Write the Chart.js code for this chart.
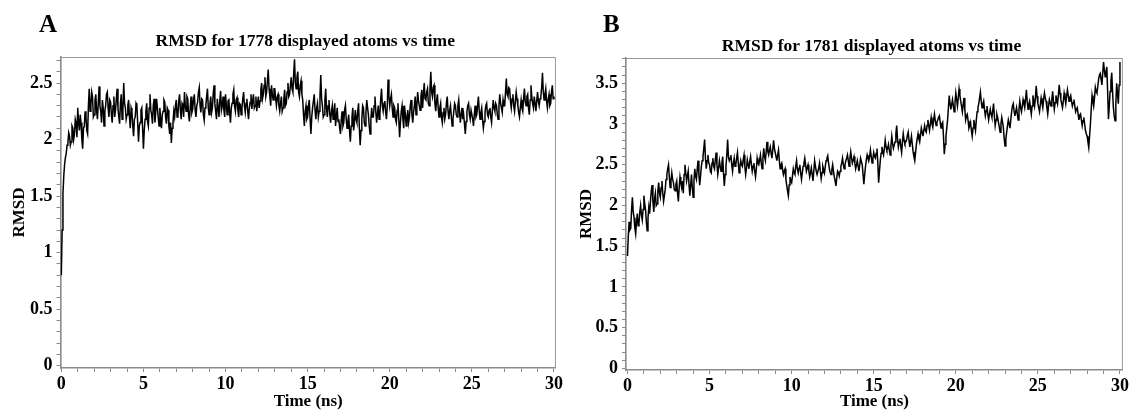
<!DOCTYPE html>
<html><head><meta charset="utf-8">
<script src="https://cdn.jsdelivr.net/npm/chart.js@4.4.1/dist/chart.umd.min.js"></script>
<style>
html,body{margin:0;padding:0;background:#fff;width:1131px;height:412px;overflow:hidden}
canvas{position:absolute;top:0}
#cA{left:0}
#cB{left:565px}
</style></head><body>
<canvas id="cA" width="565" height="412"></canvas>
<canvas id="cB" width="566" height="412"></canvas>
<script>
// ---------- data (one value every 0.05 ns; one row = 1 ns) ----------
const timeStepNs = 0.05;

const rmsdA = [
  0.80, 1.20, 1.52, 1.68, 1.78, 1.84, 1.88, 1.95, 1.97, 2.06, 2.03, 1.95, 1.98, 2.12, 2.10, 2.00, 2.05, 2.18, 2.15, 2.02,
  2.28, 2.15, 2.08, 2.22, 2.15, 2.00, 1.92, 2.10, 2.12, 2.25, 2.20, 2.08, 2.05, 2.30, 2.45, 2.25, 2.30, 2.42, 2.38, 2.20,
  2.22, 2.35, 2.40, 2.25, 2.18, 2.32, 2.47, 2.30, 2.25, 2.15, 2.35, 2.28, 2.12, 2.25, 2.30, 2.40, 2.42, 2.28, 2.20, 2.35,
  2.33, 2.22, 2.15, 2.30, 2.38, 2.20, 2.26, 2.36, 2.45, 2.28, 2.20, 2.14, 2.32, 2.40, 2.18, 2.26, 2.50, 2.32, 2.28, 2.18,
  2.22, 2.30, 2.35, 2.20, 2.10, 2.28, 2.25, 2.12, 2.03, 2.18, 2.20, 2.32, 2.30, 2.15, 1.98, 2.12, 2.15, 2.26, 2.28, 2.10,
  1.92, 2.08, 2.18, 2.25, 2.32, 2.16, 2.12, 2.28, 2.40, 2.26, 2.22, 2.14, 2.30, 2.36, 2.15, 2.24, 2.36, 2.28, 2.20, 2.12,
  2.28, 2.18, 2.10, 2.22, 2.25, 2.35, 2.33, 2.20, 2.14, 2.28, 2.26, 2.12, 2.05, 2.15, 1.97, 2.10, 2.15, 2.25, 2.20, 2.30,
  2.35, 2.20, 2.22, 2.34, 2.40, 2.26, 2.18, 2.32, 2.30, 2.20, 2.42, 2.30, 2.25, 2.38, 2.36, 2.22, 2.16, 2.28, 2.38, 2.24,
  2.27, 2.35, 2.40, 2.26, 2.20, 2.30, 2.33, 2.42, 2.46, 2.30, 2.24, 2.36, 2.35, 2.22, 2.17, 2.28, 2.30, 2.38, 2.45, 2.28,
  2.22, 2.32, 2.38, 2.24, 2.28, 2.40, 2.48, 2.32, 2.25, 2.18, 2.36, 2.28, 2.20, 2.34, 2.43, 2.26, 2.30, 2.38, 2.26, 2.20,
  2.40, 2.30, 2.22, 2.34, 2.35, 2.24, 2.15, 2.28, 2.32, 2.40, 2.44, 2.30, 2.25, 2.35, 2.37, 2.26, 2.20, 2.32, 2.31, 2.22,
  2.28, 2.36, 2.42, 2.30, 2.24, 2.32, 2.36, 2.25, 2.18, 2.28, 2.33, 2.40, 2.27, 2.34, 2.40, 2.28, 2.30, 2.38, 2.25, 2.32,
  2.38, 2.28, 2.34, 2.44, 2.50, 2.36, 2.40, 2.48, 2.55, 2.38, 2.42, 2.52, 2.62, 2.45, 2.38, 2.30, 2.48, 2.40, 2.35, 2.45,
  2.45, 2.36, 2.30, 2.38, 2.40, 2.30, 2.25, 2.32, 2.38, 2.25, 2.28, 2.36, 2.44, 2.30, 2.32, 2.42, 2.50, 2.38, 2.40, 2.48,
  2.55, 2.45, 2.42, 2.58, 2.71, 2.50, 2.45, 2.55, 2.60, 2.42, 2.38, 2.48, 2.52, 2.40, 2.35, 2.22, 2.12, 2.25, 2.30, 2.18,
  2.20, 2.30, 2.35, 2.18, 2.05, 2.20, 2.28, 2.34, 2.40, 2.26, 2.18, 2.28, 2.32, 2.20, 2.25, 2.38, 2.57, 2.36, 2.30, 2.20,
  2.22, 2.35, 2.45, 2.28, 2.20, 2.30, 2.35, 2.22, 2.15, 2.25, 2.30, 2.18, 2.24, 2.32, 2.12, 2.20, 2.28, 2.16, 2.18, 2.10,
  2.05, 2.18, 2.25, 2.12, 2.15, 2.26, 2.30, 2.18, 2.10, 2.16, 2.22, 2.08, 1.98, 2.12, 2.20, 2.28, 2.08, 2.15, 2.26, 2.18,
  2.15, 2.25, 2.32, 2.10, 1.95, 2.08, 2.18, 2.30, 2.28, 2.15, 2.12, 2.24, 2.35, 2.28, 2.22, 2.12, 2.05, 2.18, 2.28, 2.20,
  2.20, 2.30, 2.38, 2.25, 2.15, 2.22, 2.30, 2.18, 2.22, 2.36, 2.45, 2.30, 2.25, 2.32, 2.34, 2.24, 2.18, 2.30, 2.53, 2.38,
  2.30, 2.36, 2.40, 2.28, 2.20, 2.30, 2.28, 2.18, 2.15, 2.26, 2.32, 2.18, 2.02, 2.15, 2.25, 2.30, 2.18, 2.10, 2.30, 2.22,
  2.12, 2.20, 2.26, 2.15, 2.20, 2.30, 2.35, 2.22, 2.15, 2.24, 2.30, 2.38, 2.22, 2.30, 2.42, 2.34, 2.30, 2.26, 2.38, 2.44,
  2.28, 2.40, 2.50, 2.36, 2.35, 2.42, 2.45, 2.32, 2.30, 2.45, 2.60, 2.42, 2.38, 2.46, 2.48, 2.32, 2.25, 2.34, 2.40, 2.28,
  2.20, 2.28, 2.32, 2.20, 2.15, 2.24, 2.28, 2.18, 2.22, 2.32, 2.38, 2.25, 2.18, 2.26, 2.30, 2.20, 2.12, 2.18, 2.25, 2.32,
  2.30, 2.22, 2.20, 2.30, 2.35, 2.24, 2.15, 2.22, 2.28, 2.18, 2.22, 2.14, 2.05, 2.16, 2.25, 2.30, 2.32, 2.22, 2.18, 2.26,
  2.26, 2.18, 2.12, 2.22, 2.30, 2.20, 2.22, 2.30, 2.38, 2.25, 2.18, 2.24, 2.28, 2.18, 2.10, 2.16, 2.24, 2.30, 2.32, 2.22,
  2.20, 2.26, 2.28, 2.20, 2.15, 2.26, 2.35, 2.28, 2.25, 2.32, 2.30, 2.22, 2.18, 2.30, 2.40, 2.32, 2.28, 2.24, 2.35, 2.30,
  2.30, 2.42, 2.54, 2.40, 2.38, 2.46, 2.45, 2.34, 2.28, 2.36, 2.40, 2.30, 2.25, 2.34, 2.42, 2.36, 2.30, 2.24, 2.20, 2.28,
  2.35, 2.28, 2.25, 2.36, 2.45, 2.34, 2.30, 2.38, 2.40, 2.28, 2.22, 2.35, 2.48, 2.38, 2.32, 2.28, 2.38, 2.32, 2.25, 2.34,
  2.42, 2.34, 2.30, 2.36, 2.38, 2.46, 2.59, 2.42, 2.35, 2.40, 2.45, 2.34, 2.28, 2.36, 2.40, 2.30, 2.32, 2.42, 2.48, 2.36,
  2.38
];

const rmsdB = [
  1.38, 1.62, 1.80, 1.70, 1.72, 1.95, 2.10, 1.92, 1.85, 1.72, 1.65, 1.80, 1.90, 1.75, 1.78, 1.92, 2.00, 1.88, 1.82, 1.95,
  2.12, 2.02, 1.95, 1.80, 1.69, 1.85, 1.98, 1.90, 2.05, 2.18, 2.25, 2.05, 1.92, 2.08, 2.15, 2.00, 2.02, 2.18, 2.28, 2.15,
  2.10, 2.22, 2.30, 2.15, 2.05, 2.12, 2.20, 2.32, 2.38, 2.45, 2.50, 2.35, 2.22, 2.30, 2.40, 2.32, 2.28, 2.20, 2.18, 2.26,
  2.30, 2.15, 2.05, 2.22, 2.35, 2.28, 2.22, 2.30, 2.15, 2.38, 2.50, 2.40, 2.30, 2.36, 2.42, 2.25, 2.12, 2.25, 2.38, 2.22,
  2.10, 2.30, 2.45, 2.36, 2.32, 2.45, 2.55, 2.38, 2.25, 2.36, 2.48, 2.55, 2.60, 2.70, 2.81, 2.58, 2.45, 2.55, 2.62, 2.52,
  2.50, 2.42, 2.40, 2.52, 2.58, 2.48, 2.45, 2.56, 2.65, 2.50, 2.38, 2.46, 2.55, 2.48, 2.42, 2.52, 2.60, 2.40, 2.24, 2.38,
  2.48, 2.62, 2.81, 2.60, 2.55, 2.58, 2.62, 2.50, 2.42, 2.52, 2.58, 2.48, 2.50, 2.58, 2.65, 2.52, 2.40, 2.48, 2.55, 2.50,
  2.48, 2.56, 2.62, 2.48, 2.38, 2.46, 2.56, 2.50, 2.45, 2.54, 2.60, 2.50, 2.42, 2.48, 2.52, 2.42, 2.35, 2.45, 2.58, 2.52,
  2.50, 2.56, 2.62, 2.52, 2.45, 2.58, 2.70, 2.60, 2.55, 2.66, 2.78, 2.66, 2.62, 2.68, 2.72, 2.64, 2.58, 2.68, 2.80, 2.70,
  2.65, 2.60, 2.55, 2.62, 2.68, 2.55, 2.45, 2.50, 2.52, 2.44, 2.38, 2.42, 2.45, 2.32, 2.25, 2.18, 2.12, 2.25, 2.35, 2.30,
  2.28, 2.36, 2.45, 2.40, 2.38, 2.48, 2.55, 2.45, 2.40, 2.46, 2.50, 2.40, 2.32, 2.40, 2.48, 2.52, 2.58, 2.50, 2.42, 2.46,
  2.50, 2.42, 2.35, 2.40, 2.46, 2.38, 2.30, 2.42, 2.55, 2.48, 2.42, 2.38, 2.38, 2.46, 2.52, 2.42, 2.33, 2.40, 2.48, 2.44,
  2.40, 2.48, 2.55, 2.58, 2.61, 2.52, 2.45, 2.40, 2.38, 2.44, 2.50, 2.42, 2.35, 2.30, 2.24, 2.34, 2.42, 2.40, 2.36, 2.42,
  2.48, 2.52, 2.58, 2.50, 2.45, 2.50, 2.55, 2.58, 2.62, 2.55, 2.48, 2.58, 2.66, 2.58, 2.52, 2.56, 2.60, 2.52, 2.45, 2.50,
  2.55, 2.48, 2.42, 2.50, 2.58, 2.54, 2.50, 2.38, 2.26, 2.38, 2.48, 2.56, 2.62, 2.58, 2.55, 2.60, 2.68, 2.60, 2.52, 2.58,
  2.65, 2.60, 2.58, 2.64, 2.70, 2.52, 2.28, 2.42, 2.55, 2.64, 2.72, 2.66, 2.62, 2.70, 2.80, 2.72, 2.68, 2.70, 2.75, 2.68,
  2.62, 2.74, 2.85, 2.76, 2.70, 2.74, 2.78, 2.88, 2.98, 2.82, 2.72, 2.78, 2.82, 2.72, 2.65, 2.78, 2.88, 2.80, 2.76, 2.78,
  2.80, 2.86, 2.90, 2.80, 2.72, 2.78, 2.85, 2.75, 2.66, 2.60, 2.55, 2.65, 2.75, 2.82, 2.88, 2.82, 2.78, 2.86, 2.95, 2.90,
  2.85, 2.92, 2.98, 2.92, 2.90, 2.98, 3.05, 2.98, 2.92, 3.00, 3.08, 3.00, 2.96, 3.05, 3.12, 3.04, 2.98, 3.02, 3.05, 3.08,
  3.10, 3.02, 2.95, 3.00, 3.02, 2.85, 2.63, 2.75, 2.85, 2.95, 3.05, 3.20, 3.35, 3.25, 3.18, 3.24, 3.30, 3.22, 3.15, 3.26,
  3.38, 3.30, 3.22, 3.32, 3.43, 3.35, 3.28, 3.22, 3.15, 3.24, 3.32, 3.18, 3.05, 3.10, 3.12, 3.04, 2.95, 2.98, 3.02, 2.92,
  2.85, 2.95, 3.05, 2.98, 2.92, 3.05, 3.15, 3.20, 3.25, 3.32, 3.39, 3.28, 3.20, 3.24, 3.28, 3.18, 3.10, 3.16, 3.22, 3.12,
  3.05, 3.12, 3.18, 3.12, 3.08, 3.16, 3.25, 3.10, 2.98, 3.05, 3.12, 3.08, 3.02, 2.96, 2.90, 3.00, 3.08, 3.02, 2.95, 2.82,
  2.73, 2.82, 2.90, 2.98, 3.05, 3.00, 2.95, 3.05, 3.15, 3.22, 3.25, 3.16, 3.10, 3.15, 3.20, 3.12, 3.05, 3.18, 3.28, 3.20,
  3.15, 3.22, 3.30, 3.25, 3.20, 3.30, 3.42, 3.28, 3.18, 3.24, 3.28, 3.20, 3.12, 3.22, 3.35, 3.28, 3.22, 3.32, 3.47, 3.34,
  3.25, 3.20, 3.15, 3.24, 3.32, 3.26, 3.20, 3.30, 3.38, 3.32, 3.28, 3.20, 3.12, 3.22, 3.30, 3.26, 3.22, 3.30, 3.40, 3.28,
  3.18, 3.26, 3.35, 3.30, 3.25, 3.36, 3.48, 3.38, 3.30, 3.25, 3.20, 3.28, 3.38, 3.32, 3.25, 3.34, 3.42, 3.35, 3.28, 3.32,
  3.35, 3.28, 3.22, 3.26, 3.30, 3.22, 3.15, 3.18, 3.20, 3.12, 3.05, 3.10, 3.12, 3.05, 2.98, 3.04, 3.08, 3.00, 2.92, 2.88,
  2.85, 2.78, 2.71, 2.85, 3.00, 3.18, 3.35, 3.28, 3.22, 3.32, 3.45, 3.40, 3.38, 3.46, 3.55, 3.60, 3.62, 3.55, 3.48, 3.62,
  3.76, 3.66, 3.58, 3.64, 3.70, 3.40, 3.06, 3.22, 3.40, 3.52, 3.63, 3.40, 3.20, 3.10, 3.04, 3.25, 3.50, 3.38, 3.25, 3.48,
  3.76
];

const panelLetters = ["A", "B"];
const titleA = "RMSD for 1778 displayed atoms vs time";
const titleB = "RMSD for 1781 displayed atoms vs time";
const xAxisTitle = "Time (ns)";
const yAxisTitle = "RMSD";

// tick marks (minor + major) and the ones that carry labels
const xTickValues = [0,1,2,3,4,5,6,7,8,9,10,11,12,13,14,15,16,17,18,19,20,21,22,23,24,25,26,27,28,29,30];
const xLabelValues = [0, 5, 10, 15, 20, 25, 30];
const yTickValuesA = [0,0.1,0.2,0.3,0.4,0.5,0.6,0.7,0.8,0.9,1,1.1,1.2,1.3,1.4,1.5,1.6,1.7,1.8,1.9,2,2.1,2.2,2.3,2.4,2.5,2.6,2.7];
const yLabelValuesA = [0, 0.5, 1, 1.5, 2, 2.5];
const yTickValuesB = [0,0.1,0.2,0.3,0.4,0.5,0.6,0.7,0.8,0.9,1,1.1,1.2,1.3,1.4,1.5,1.6,1.7,1.8,1.9,2,2.1,2.2,2.3,2.4,2.5,2.6,2.7,2.8,2.9,3,3.1,3.2,3.3,3.4,3.5,3.6,3.7,3.8];
const yLabelValuesB = [0, 0.5, 1, 1.5, 2, 2.5, 3, 3.5];

// ---------- rendering ----------
const FONT = '"Liberation Serif", "Times New Roman", serif';
const AXIS_GREY = '#8a8a8a';

function toPoints(vals) {
  return vals.map((v, i) => ({ x: Math.round(i * timeStepNs * 100) / 100, y: v }));
}
function isLabel(list, v) {
  return list.some(l => Math.abs(l - v) < 1e-6);
}

function makeChart(canvasId, cfg) {
  const panelPlugin = {
    id: 'panelDecor',
    afterDraw(chart) {
      const ctx = chart.ctx, a = chart.chartArea;
      ctx.save();
      ctx.strokeStyle = '#9a9a9a';
      ctx.lineWidth = 1;
      ctx.beginPath();
      ctx.moveTo(a.left, a.top + 0.5);
      ctx.lineTo(a.right - 0.5, a.top + 0.5);
      ctx.lineTo(a.right - 0.5, a.bottom);
      ctx.stroke();
      ctx.fillStyle = '#000';
      ctx.textBaseline = 'alphabetic';
      ctx.textAlign = 'left';
      ctx.font = 'bold 25px ' + FONT;
      ctx.fillText(cfg.letter, cfg.letterX, cfg.letterY);
      ctx.textAlign = 'center';
      ctx.font = 'bold 17.5px ' + FONT;
      ctx.fillText(cfg.title, (a.left + a.right) / 2 - 3, cfg.titleY);
      ctx.restore();
    }
  };

  return new Chart(document.getElementById(canvasId), {
    type: 'line',
    data: {
      datasets: [{
        data: toPoints(cfg.values),
        borderColor: '#000',
        borderWidth: 1.5,
        pointRadius: 0,
        tension: 0,
        fill: false
      }]
    },
    options: {
      responsive: false,
      animation: false,
      devicePixelRatio: 1,
      layout: { padding: { left: 0, top: cfg.top, right: cfg.rightPad, bottom: 0 } },
      plugins: { legend: { display: false }, tooltip: { enabled: false }, title: { display: false } },
      scales: {
        x: {
          type: 'linear',
          min: cfg.xMin, max: cfg.xMax,
          afterBuildTicks(scale) { scale.ticks = xTickValues.map(v => ({ value: v })); },
          afterFit(scale) { scale.height = cfg.xAxisHeight; },
          ticks: {
            autoSkip: false, maxRotation: 0, padding: 2,
            color: '#000',
            font: { family: FONT, size: 18, weight: 'bold' },
            callback: v => isLabel(xLabelValues, v) ? String(v) : ''
          },
          grid: { drawOnChartArea: false, drawTicks: true, tickLength: 4, tickColor: AXIS_GREY, tickWidth: 1 },
          border: { display: true, color: AXIS_GREY, width: 1.6 },
          title: {
            display: true, text: xAxisTitle, color: '#000',
            font: { family: FONT, size: 17, weight: 'bold' },
            padding: { top: 0, bottom: 0 }
          }
        },
        y: {
          type: 'linear',
          min: cfg.yMin, max: cfg.yMax,
          afterBuildTicks(scale) { scale.ticks = cfg.yTicks.map(v => ({ value: v })); },
          afterFit(scale) { scale.width = cfg.yAxisWidth; },
          ticks: {
            autoSkip: false, padding: 4,
            color: '#000',
            font: { family: FONT, size: 18, weight: 'bold' },
            callback: v => isLabel(cfg.yLabels, v) ? String(Math.round(v * 10) / 10) : ''
          },
          grid: { drawOnChartArea: false, drawTicks: true, tickLength: 4, tickColor: AXIS_GREY, tickWidth: 1 },
          border: { display: true, color: AXIS_GREY, width: 1.6 },
          title: {
            display: true, text: yAxisTitle, color: '#000',
            font: { family: FONT, size: 17, weight: 'bold' },
            padding: { top: cfg.yTitlePad, bottom: 0 }
          }
        }
      }
    },
    plugins: [panelPlugin]
  });
}

makeChart('cA', {
  values: rmsdA, letter: panelLetters[0], title: titleA,
  letterX: 39, letterY: 32, titleY: 46,
  top: 57, rightPad: 9, xAxisHeight: 44, yAxisWidth: 60.5,
  xMin: -0.05, xMax: 30.12, yMin: -0.02, yMax: 2.73,
  yTicks: yTickValuesA, yLabels: yLabelValuesA, yTitlePad: 9
});
makeChart('cB', {
  values: rmsdB, letter: panelLetters[1], title: titleB,
  letterX: 38, letterY: 32, titleY: 50.5,
  top: 58, rightPad: 8, xAxisHeight: 42, yAxisWidth: 61,
  xMin: -0.09, xMax: 30.18, yMin: -0.02, yMax: 3.81,
  yTicks: yTickValuesB, yLabels: yLabelValuesB, yTitlePad: 11
});
</script>
</body></html>
